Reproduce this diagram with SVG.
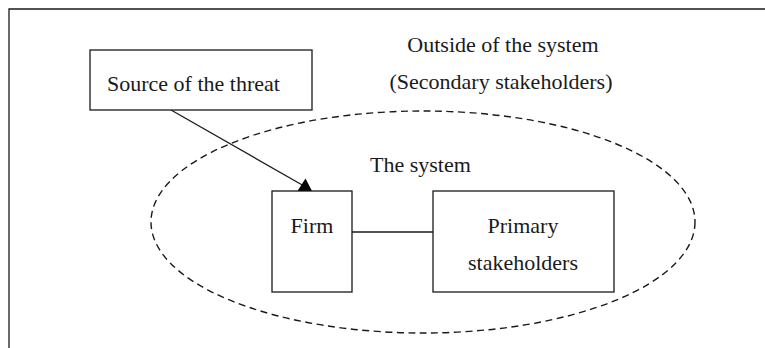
<svg xmlns="http://www.w3.org/2000/svg" width="765" height="348" viewBox="0 0 765 348">
  <style>
    .box { fill: #fff; stroke: #1a1a1a; stroke-width: 1.3; }
    .lbl { font-family: "Liberation Serif", "Times New Roman", serif; font-size: 22px; fill: #1a1a1a; }
    .mid { text-anchor: middle; }
    .edge { stroke: #1a1a1a; stroke-width: 1.3; fill: none; }
  </style>
  <rect width="765" height="348" fill="#fff"/>
  <!-- outer frame (open at right and bottom) -->
  <path d="M9,348 V9 H765" fill="none" stroke="#1a1a1a" stroke-width="1.3"/>

  <!-- system boundary -->
  <g id="system">
    <ellipse cx="423" cy="222" rx="272" ry="111" fill="none" stroke="#1a1a1a" stroke-width="1.4" stroke-dasharray="7 4.5"/>
    <text class="lbl" x="370" y="172">The system</text>
  </g>

  <g id="outside">
    <text class="lbl mid" x="503" y="52">Outside of the system</text>
    <text class="lbl mid" x="501" y="89">(Secondary stakeholders)</text>
  </g>

  <g id="connectors">
    <line class="edge" x1="171" y1="110" x2="304" y2="186" stroke-width="2"/>
    <polygon points="297.5,191 312,191 305.5,178.5" fill="#000"/>
    <line class="edge" x1="352" y1="232" x2="433" y2="232"/>
  </g>

  <g id="source">
    <rect class="box" x="90" y="50" width="222" height="60"/>
    <text class="lbl" x="107" y="91">Source of the threat</text>
  </g>

  <g id="firm">
    <rect class="box" x="272" y="191" width="80" height="101"/>
    <text class="lbl mid" x="312" y="233">Firm</text>
  </g>

  <g id="primary">
    <rect class="box" x="433" y="191" width="181" height="101"/>
    <text class="lbl mid" x="523" y="233">Primary</text>
    <text class="lbl mid" x="523" y="270">stakeholders</text>
  </g>
</svg>
